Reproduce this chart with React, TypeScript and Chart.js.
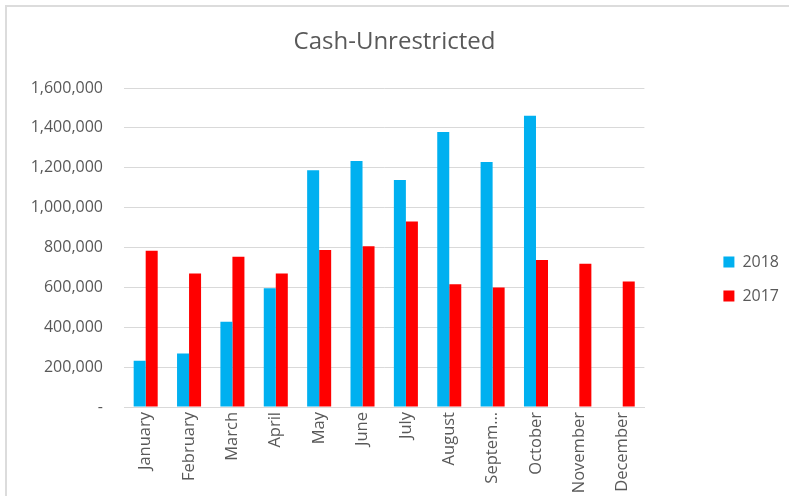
import React, { useEffect, useRef } from "react";
import { Chart, registerables } from "chart.js";

Chart.register(...registerables);

const categories = [
  "January", "February", "March", "April", "May", "June",
  "July", "August", "September", "October", "November", "December",
];
const values2018: (number | null)[] = [
  232000, 268000, 428000, 596000, 1187000, 1234000,
  1138000, 1379000, 1229000, 1461000, null, null,
];
const values2017: number[] = [
  784000, 670000, 754000, 670000, 787000, 806000,
  930000, 616000, 600000, 737000, 719000, 630000,
];
const seriesNames = ["2018", "2017"];
const yMin = 0;
const yMax = 1600000;
const yStep = 200000;

const FONT = "'Open Sans', 'DejaVu Sans', sans-serif";
const TEXT = "#595959";
const GRID = "#d9d9d9";

export default function App() {
  const ref = useRef<HTMLCanvasElement | null>(null);

  useEffect(() => {
    if (!ref.current) return;
    const chart = new Chart(ref.current, {
      type: "bar",
      data: {
        labels: categories,
        datasets: [
          {
            label: seriesNames[0],
            data: values2018,
            backgroundColor: "#00B0F0",
            categoryPercentage: 0.554,
            barPercentage: 1,
          },
          {
            label: seriesNames[1],
            data: values2017,
            backgroundColor: "#FF0000",
            categoryPercentage: 0.554,
            barPercentage: 1,
          },
        ],
      },
      options: {
        responsive: false,
        animation: false,
        layout: { padding: 0 },
        plugins: {
          title: {
            display: true,
            text: "Cash-Unrestricted",
            color: TEXT,
            font: { family: FONT, size: 24, weight: "normal", lineHeight: 1.2 },
            padding: { top: 28, bottom: 31.2 },
          },
          legend: {
            position: "right",
            fullSize: false,
            title: {
              display: true,
              text: "",
              font: { size: 12, lineHeight: 1.2 },
              padding: { top: 24.3, bottom: 24.3 },
            },
            labels: {
              color: TEXT,
              font: { family: FONT, size: 16 },
              boxWidth: 11,
              boxHeight: 11,
              padding: 18,
            },
          },
          tooltip: { enabled: false },
        },
        scales: {
          x: {
            grid: { display: false, drawTicks: false },
            border: { display: true, color: GRID, width: 1 },
            ticks: {
              color: TEXT,
              font: { family: FONT, size: 16.5 },
              autoSkip: false,
              minRotation: 90,
              maxRotation: 90,
              padding: 5,
              callback: function (this: any, value: any, index: number) {
                const s = categories[index];
                return s.length > 8 ? s.slice(0, 6) + "…" : s;
              },
            },
            afterFit: (scale: any) => {
              scale.height = 89;
            },
          },
          y: {
            min: yMin,
            max: yMax,
            grid: { color: GRID, lineWidth: 1, drawTicks: false },
            border: { display: false },
            ticks: {
              stepSize: yStep,
              color: TEXT,
              font: { family: FONT, size: 16 },
              padding: 21,
              callback: (v: any) =>
                Number(v) === 0 ? "-" : Number(v).toLocaleString("en-US"),
            },
            afterFit: (scale: any) => {
              scale.width = 124;
            },
          },
          spacer: {
            type: "linear",
            position: "right",
            display: true,
            grid: { display: false, drawTicks: false },
            border: { display: false },
            ticks: { display: false },
            afterFit: (scale: any) => {
              scale.width = 61;
            },
          },
        },
      },
    } as any);
    return () => chart.destroy();
  }, []);

  return (
    <div
      style={{
        position: "absolute",
        left: 0,
        top: 0,
        width: 789,
        height: 496,
        background: "#ffffff",
        overflow: "hidden",
      }}
    >
      <div
        style={{
          position: "absolute",
          left: 5,
          top: 5,
          right: -4,
          bottom: -4,
          borderTop: "2px solid #dcdcdc",
          borderLeft: "2px solid #dcdcdc",
          pointerEvents: "none",
        }}
      />
      <canvas
        ref={ref}
        width={789}
        height={496}
        style={{ position: "absolute", left: 0, top: 0, width: 789, height: 496 }}
      />
    </div>
  );
}
